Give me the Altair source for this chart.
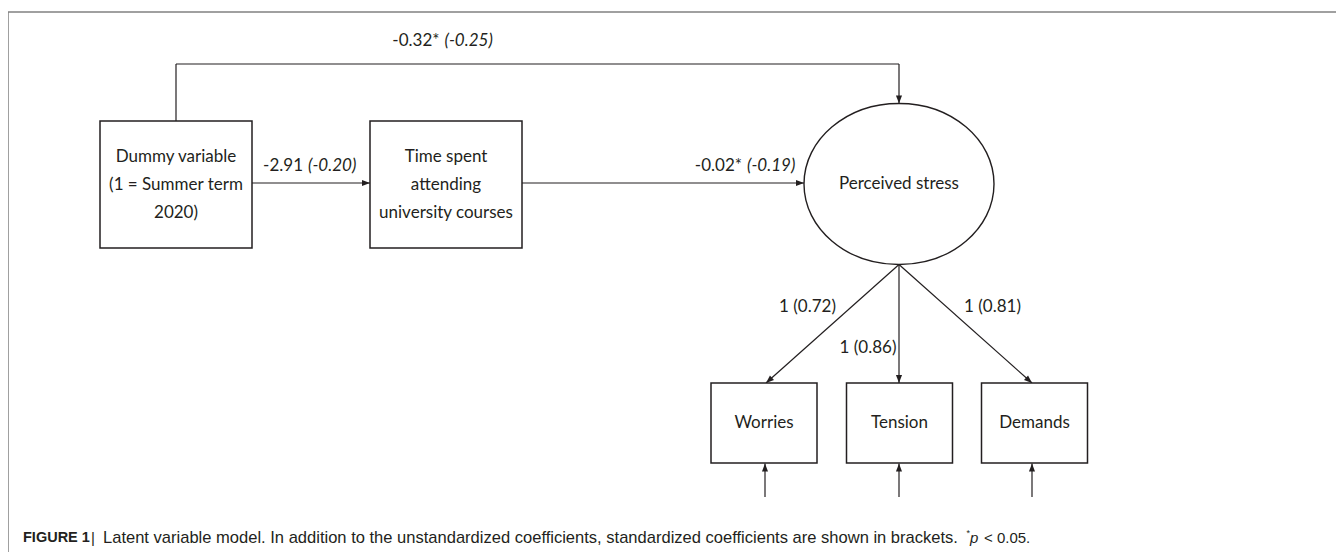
import math
import altair as alt
import pandas as pd

# ---------------- content ----------------
node_names = ["dummy", "time", "stress", "worries", "tension", "demands"]
node_labels = [
    "Dummy variable\n(1 = Summer term\n2020)",
    "Time spent\nattending\nuniversity courses",
    "Perceived stress",
    "Worries",
    "Tension",
    "Demands",
]
node_kind = ["box", "box", "ellipse", "box", "box", "box"]

path_from = ["dummy", "dummy", "time"]
path_to = ["stress", "time", "stress"]
path_unstd = [-0.32, -2.91, -0.02]
path_std = [-0.25, -0.20, -0.19]
path_sig = [True, False, True]

load_items = ["worries", "tension", "demands"]
load_unstd = [1, 1, 1]
load_std = [0.72, 0.86, 0.81]

caption_label = "FIGURE 1"
caption_text = ("Latent variable model. In addition to the unstandardized coefficients, "
                "standardized coefficients are shown in brackets.")
caption_star = "*"
caption_p = "p"
caption_note = "< 0.05."

# ---------------- layout (figure pixel coordinates) ----------------
node_cx = [176, 446, 899, 764, 899.5, 1034.5]
node_cy = [184.5, 184.5, 184, 423, 423, 423]
node_hw = [76, 76, 95, 53, 53, 53]
node_hh = [63.5, 63.5, 80.5, 40, 40, 40]
LINE_H = 28

path_routes = [
    [(176, 121), (176, 64), (899, 64), (899, 103.5)],
    [(252, 183), (370, 183)],
    [(522, 183), (804, 183)],
]
path_label_x = [442, 305.5, 744.5]
path_label_y = [41, 166, 166]

load_routes = [
    [(899, 264.5), (766, 383)],
    [(899, 264.5), (899, 383)],
    [(899, 264.5), (1032, 383)],
]
load_label_x = [807.5, 868, 992.5]
load_label_y = [307, 348, 307]

error_routes = [
    [(765, 497), (765, 463.5)],
    [(899, 497), (899, 463.5)],
    [(1032, 497), (1032, 463.5)],
]

INK = "#231f20"
FONT = "Lato"
FS = 17

# ---------------- tables ----------------
nodes = pd.DataFrame({"name": node_names, "label": node_labels, "kind": node_kind,
                      "cx": node_cx, "cy": node_cy, "hw": node_hw, "hh": node_hh})
nodes["x0"] = nodes.cx - nodes.hw
nodes["x1"] = nodes.cx + nodes.hw
nodes["y0"] = nodes.cy - nodes.hh
nodes["y1"] = nodes.cy + nodes.hh
nodes["ty"] = nodes.cy - (nodes.label.str.count("\n")) * LINE_H / 2
boxes = nodes[nodes.kind == "box"]
ellipses = nodes[nodes.kind == "ellipse"]

segs, heads = [], []
for route in path_routes + load_routes + error_routes:
    for (xa, ya), (xb, yb) in zip(route[:-1], route[1:]):
        segs.append({"x": xa, "y": ya, "x2": xb, "y2": yb})
    (xa, ya), (xb, yb) = route[-2], route[-1]
    ang = math.degrees(math.atan2(xb - xa, -(yb - ya))) % 360
    heads.append({"x": xb, "y": yb, "angle": ang})
segs = pd.DataFrame(segs)
heads = pd.DataFrame(heads)

coef = pd.DataFrame({
    "main": [f"{u:.2f}" + ("*" if s else "") for u, s in zip(path_unstd, path_sig)],
    "ital": [f"({v:.2f})" for v in path_std],
    "x": path_label_x, "y": path_label_y,
})
coef["xm"] = coef.x - 2.5
coef["xi"] = coef.x + 2.5

loads = pd.DataFrame({
    "label": [f"{u} ({v:.2f})" for u, v in zip(load_unstd, load_std)],
    "x": load_label_x, "y": load_label_y,
})

X0, X1, Y0, Y1 = 8, 1336, 8, 552
xs = alt.Scale(domain=[X0, X1])
ys = alt.Scale(domain=[Y0, Y1], reverse=True)


def X(f):
    return alt.X(f, type="quantitative", scale=xs, axis=None)


def Y(f):
    return alt.Y(f, type="quantitative", scale=ys, axis=None)


frame = pd.DataFrame({"x": [8, 8], "y": [12, 12], "x2": [1336, 8], "y2": [12, 552]})
frame_layer = alt.Chart(frame).mark_rule(color="#808080", strokeWidth=1.5).encode(
    x=X("x"), y=Y("y"), x2="x2", y2="y2")

seg_layer = alt.Chart(segs).mark_rule(color=INK, strokeWidth=1.2).encode(
    x=X("x"), y=Y("y"), x2="x2", y2="y2")

box_layer = alt.Chart(boxes).mark_rect(fill="white", stroke=INK, strokeWidth=1.5).encode(
    x=X("x0"), x2="x1", y=Y("y0"), y2="y1")

k = 0.5523
ry = 80.5 / 95
ell_path = (f"M -1 0 C -1 {-k*ry:.4f} {-k:.4f} {-ry:.4f} 0 {-ry:.4f} "
            f"C {k:.4f} {-ry:.4f} 1 {-k*ry:.4f} 1 0 "
            f"C 1 {k*ry:.4f} {k:.4f} {ry:.4f} 0 {ry:.4f} "
            f"C {-k:.4f} {ry:.4f} -1 {k*ry:.4f} -1 0 Z")
ell_layer = alt.Chart(ellipses).mark_point(
    shape=ell_path, size=(2 * 95) ** 2, filled=False, stroke=INK, strokeWidth=1.4,
    opacity=1, fill="white", fillOpacity=1).encode(x=X("cx"), y=Y("cy"))

head_layer = alt.Chart(heads).mark_point(
    shape="M 0 0 L -0.38 1 L 0.38 1 Z", size=256, filled=True, color=INK, opacity=1,
    strokeWidth=0).encode(x=X("x"), y=Y("y"), angle=alt.Angle("angle:Q", scale=None))

node_text = alt.Chart(nodes).mark_text(
    font=FONT, fontSize=FS, color=INK, lineBreak="\n", lineHeight=LINE_H,
    align="center", baseline="middle").encode(x=X("cx"), y=Y("ty"), text="label:N")

coef_main = alt.Chart(coef).mark_text(
    font=FONT, fontSize=FS, color=INK, align="right", baseline="middle").encode(
    x=X("xm"), y=Y("y"), text="main:N")
coef_ital = alt.Chart(coef).mark_text(
    font=FONT, fontSize=FS, color=INK, align="left", baseline="middle",
    fontStyle="italic").encode(x=X("xi"), y=Y("y"), text="ital:N")

load_text = alt.Chart(loads).mark_text(
    font=FONT, fontSize=FS, color=INK, align="center", baseline="middle").encode(
    x=X("x"), y=Y("y"), text="label:N")

cap = pd.DataFrame({
    "text": [caption_label, "|", caption_text, caption_star, caption_p, caption_note],
    "x": [23, 93, 103, 966.5, 970, 984],
    "y": [537.5, 537.5, 537.5, 533, 537.5, 537.5],
    "part": ["label", "bar", "text", "star", "p", "note"],
})
CF = "Liberation Sans"
CFS = 16.55
cap_label = alt.Chart(cap[cap.part == "label"]).mark_text(
    font=CF, fontSize=14.5, fontWeight="bold", color=INK, align="left",
    baseline="middle").encode(x=X("x"), y=Y("y"), text="text:N")
cap_bar = alt.Chart(cap[cap.part == "bar"]).mark_text(
    font=CF, fontSize=15, color=INK, align="center", baseline="middle").encode(
    x=X("x"), y=Y("y"), text="text:N")
cap_text = alt.Chart(cap[cap.part == "text"]).mark_text(
    font=CF, fontSize=CFS, color=INK, align="left", baseline="middle").encode(
    x=X("x"), y=Y("y"), text="text:N")
cap_note = alt.Chart(cap[cap.part == "note"]).mark_text(
    font=CF, fontSize=15, color=INK, align="left", baseline="middle").encode(
    x=X("x"), y=Y("y"), text="text:N")
cap_star = alt.Chart(cap[cap.part == "star"]).mark_text(
    font=CF, fontSize=9, color=INK, align="left", baseline="middle").encode(
    x=X("x"), y=Y("y"), text="text:N")
cap_p = alt.Chart(cap[cap.part == "p"]).mark_text(
    font=CF, fontSize=15, fontStyle="italic", color=INK, align="left",
    baseline="middle").encode(x=X("x"), y=Y("y"), text="text:N")

chart = alt.layer(
    frame_layer, seg_layer, box_layer, ell_layer, head_layer,
    node_text, coef_main, coef_ital, load_text,
    cap_label, cap_bar, cap_text, cap_note, cap_star, cap_p,
).properties(
    width=X1 - X0, height=Y1 - Y0, padding=0, autosize=alt.AutoSizeParams(type="none"),
    background="white",
).configure_view(stroke=None)

chart.save("out.html", embed_options={"renderer": "svg", "actions": False})
